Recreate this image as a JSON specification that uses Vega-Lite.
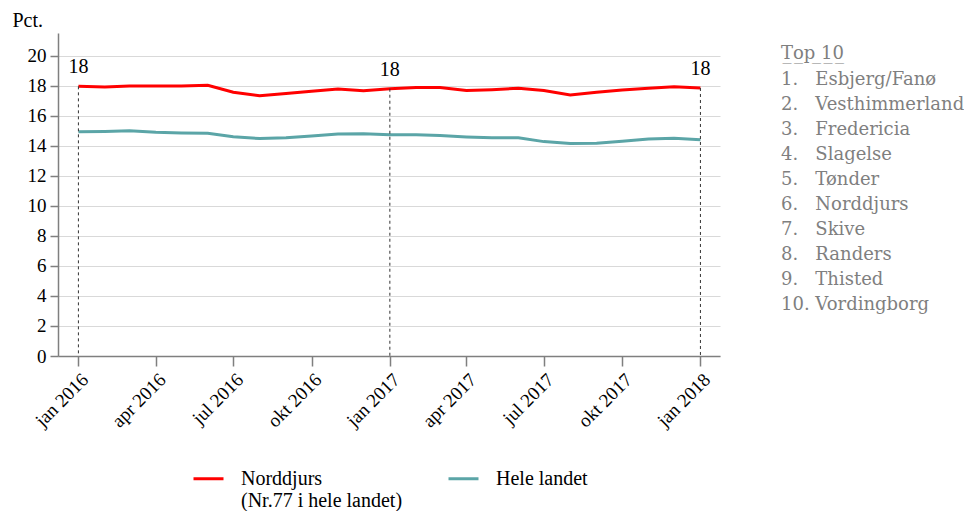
{
  "$schema": "https://vega.github.io/schema/vega-lite/v6.json",
  "width": 662,
  "height": 323,
  "autosize": {"type": "none"},
  "padding": {"left": 58, "top": 33, "right": 244, "bottom": 155},
  "background": "white",
  "config": {"font": "Liberation Serif", "view": {"stroke": null}},
  "datasets": {
    "series": [
      {"date": "2016-01-01", "series": "Norddjurs", "value": 17.95},
      {"date": "2016-02-01", "series": "Norddjurs", "value": 17.9},
      {"date": "2016-03-01", "series": "Norddjurs", "value": 17.97},
      {"date": "2016-04-01", "series": "Norddjurs", "value": 17.98},
      {"date": "2016-05-01", "series": "Norddjurs", "value": 17.98},
      {"date": "2016-06-01", "series": "Norddjurs", "value": 18.02},
      {"date": "2016-07-01", "series": "Norddjurs", "value": 17.56},
      {"date": "2016-08-01", "series": "Norddjurs", "value": 17.32},
      {"date": "2016-09-01", "series": "Norddjurs", "value": 17.47},
      {"date": "2016-10-01", "series": "Norddjurs", "value": 17.62},
      {"date": "2016-11-01", "series": "Norddjurs", "value": 17.78},
      {"date": "2016-12-01", "series": "Norddjurs", "value": 17.65},
      {"date": "2017-01-01", "series": "Norddjurs", "value": 17.79},
      {"date": "2017-02-01", "series": "Norddjurs", "value": 17.87},
      {"date": "2017-03-01", "series": "Norddjurs", "value": 17.87},
      {"date": "2017-04-01", "series": "Norddjurs", "value": 17.67},
      {"date": "2017-05-01", "series": "Norddjurs", "value": 17.73},
      {"date": "2017-06-01", "series": "Norddjurs", "value": 17.82},
      {"date": "2017-07-01", "series": "Norddjurs", "value": 17.67},
      {"date": "2017-08-01", "series": "Norddjurs", "value": 17.38},
      {"date": "2017-09-01", "series": "Norddjurs", "value": 17.56},
      {"date": "2017-10-01", "series": "Norddjurs", "value": 17.71},
      {"date": "2017-11-01", "series": "Norddjurs", "value": 17.82},
      {"date": "2017-12-01", "series": "Norddjurs", "value": 17.93},
      {"date": "2018-01-01", "series": "Norddjurs", "value": 17.84},
      {"date": "2016-01-01", "series": "Hele landet", "value": 14.93},
      {"date": "2016-02-01", "series": "Hele landet", "value": 14.95},
      {"date": "2016-03-01", "series": "Hele landet", "value": 15.0},
      {"date": "2016-04-01", "series": "Hele landet", "value": 14.9},
      {"date": "2016-05-01", "series": "Hele landet", "value": 14.85},
      {"date": "2016-06-01", "series": "Hele landet", "value": 14.82},
      {"date": "2016-07-01", "series": "Hele landet", "value": 14.6},
      {"date": "2016-08-01", "series": "Hele landet", "value": 14.47},
      {"date": "2016-09-01", "series": "Hele landet", "value": 14.53},
      {"date": "2016-10-01", "series": "Hele landet", "value": 14.65},
      {"date": "2016-11-01", "series": "Hele landet", "value": 14.78},
      {"date": "2016-12-01", "series": "Hele landet", "value": 14.8},
      {"date": "2017-01-01", "series": "Hele landet", "value": 14.72},
      {"date": "2017-02-01", "series": "Hele landet", "value": 14.73},
      {"date": "2017-03-01", "series": "Hele landet", "value": 14.67},
      {"date": "2017-04-01", "series": "Hele landet", "value": 14.58},
      {"date": "2017-05-01", "series": "Hele landet", "value": 14.53},
      {"date": "2017-06-01", "series": "Hele landet", "value": 14.52},
      {"date": "2017-07-01", "series": "Hele landet", "value": 14.27},
      {"date": "2017-08-01", "series": "Hele landet", "value": 14.14},
      {"date": "2017-09-01", "series": "Hele landet", "value": 14.16},
      {"date": "2017-10-01", "series": "Hele landet", "value": 14.3},
      {"date": "2017-11-01", "series": "Hele landet", "value": 14.44},
      {"date": "2017-12-01", "series": "Hele landet", "value": 14.49},
      {"date": "2018-01-01", "series": "Hele landet", "value": 14.4}
    ],
    "top10": [
      {"label": "1.\u00a0\u00a0\u00a0Esbjerg/Fanø"},
      {"label": "2.\u00a0\u00a0\u00a0Vesthimmerland"},
      {"label": "3.\u00a0\u00a0\u00a0Fredericia"},
      {"label": "4.\u00a0\u00a0\u00a0Slagelse"},
      {"label": "5.\u00a0\u00a0\u00a0Tønder"},
      {"label": "6.\u00a0\u00a0\u00a0Norddjurs"},
      {"label": "7.\u00a0\u00a0\u00a0Skive"},
      {"label": "8.\u00a0\u00a0\u00a0Randers"},
      {"label": "9.\u00a0\u00a0\u00a0Thisted"},
      {"label": "10.\u00a0Vordingborg"}
    ]
  },
  "encoding": {
    "x": {
      "field": "date",
      "type": "temporal",
      "scale": {"type": "utc", "domain": [{"year": 2015, "month": 12, "date": 8, "utc": true}, {"year": 2018, "month": 1, "date": 24, "utc": true}]},
      "axis": {
        "title": null,
        "tickCount": {"interval": "month", "step": 3},
        "labelExpr": "['jan','feb','mar','apr','maj','jun','jul','aug','sep','okt','nov','dec'][utcmonth(datum.value)] + ' ' + utcyear(datum.value)",
        "labelAngle": -45,
        "labelFontSize": 19,
        "labelColor": "#000000",
        "labelPadding": 4,
        "domainColor": "#7f7f7f",
        "domainWidth": 1.5,
        "tickColor": "#7f7f7f",
        "tickWidth": 1.5,
        "tickSize": 10,
        "grid": false
      }
    },
    "y": {
      "field": "value",
      "type": "quantitative",
      "scale": {"domain": [0, 21.5], "nice": false},
      "axis": {
        "values": [0, 2, 4, 6, 8, 10, 12, 14, 16, 18, 20],
        "labelOverlap": false,
        "title": "Pct.",
        "titleAngle": 0,
        "titleAlign": "left",
        "titleBaseline": "middle",
        "titleX": -46,
        "titleY": -13,
        "titleFontSize": 20,
        "titleFontWeight": "normal",
        "titleColor": "#000000",
        "labelFontSize": 19,
        "labelColor": "#000000",
        "labelPadding": 4,
        "domainColor": "#7f7f7f",
        "domainWidth": 1.5,
        "tickColor": "#7f7f7f",
        "tickWidth": 1.5,
        "tickSize": 8,
        "grid": true,
        "gridColor": "#d9d9d9",
        "gridWidth": 1
      }
    }
  },
  "layer": [
    {
      "data": {"name": "series"},
      "mark": {"type": "line", "strokeWidth": 3},
      "encoding": {
        "color": {
          "field": "series",
          "type": "nominal",
          "scale": {"domain": ["Norddjurs", "Hele landet"], "range": ["#ff0000", "#5ba5a7"]},
          "legend": {
            "title": null,
            "orient": "none",
            "legendX": 134,
            "legendY": 429,
            "direction": "horizontal",
            "symbolType": "stroke",
            "symbolSize": 900,
            "symbolStrokeWidth": 3,
            "labelFontSize": 20,
            "labelColor": "#000000",
            "labelOffset": 16,
            "labelLimit": 300,
            "labelBaseline": "middle",
            "columnPadding": 39,
            "labelExpr": "datum.label == 'Norddjurs' ? ['Norddjurs', '\u00a0(Nr.77 i hele landet)'] : [datum.label, '']"
          }
        }
      }
    },
    {
      "data": {"name": "series"},
      "transform": [{"filter": "datum.series == 'Norddjurs' && utcmonth(toDate(datum.date)) == 0"}],
      "mark": {"type": "rule", "strokeDash": [3, 3], "color": "#333333", "strokeWidth": 1},
      "encoding": {
        "y2": {"datum": 0}
      }
    },
    {
      "data": {"name": "series"},
      "transform": [{"filter": "datum.series == 'Norddjurs' && utcmonth(toDate(datum.date)) == 0"}],
      "mark": {"type": "text", "fontSize": 20, "baseline": "middle", "dy": -19, "color": "#000000"},
      "encoding": {
        "text": {"field": "value", "type": "quantitative", "format": ".0f"}
      }
    },
    {
      "data": {"name": "top10"},
      "mark": {"type": "point", "opacity": 0},
      "encoding": {
        "shape": {
          "field": "label",
          "type": "nominal",
          "sort": null,
          "scale": {"domain": [
            "1.\u00a0\u00a0\u00a0Esbjerg/Fanø",
            "2.\u00a0\u00a0\u00a0Vesthimmerland",
            "3.\u00a0\u00a0\u00a0Fredericia",
            "4.\u00a0\u00a0\u00a0Slagelse",
            "5.\u00a0\u00a0\u00a0Tønder",
            "6.\u00a0\u00a0\u00a0Norddjurs",
            "7.\u00a0\u00a0\u00a0Skive",
            "8.\u00a0\u00a0\u00a0Randers",
            "9.\u00a0\u00a0\u00a0Thisted",
            "10.\u00a0Vordingborg"
          ]},
          "legend": {
            "title": "T\u0332o\u0332p \u03321\u03320\u0332",
            "orient": "none",
            "legendX": 723,
            "legendY": 12,
            "titleFont": "DejaVu Serif",
            "titleFontSize": 18,
            "titleFontWeight": "normal",
            "titleColor": "#7f7f7f",
            "titlePadding": 8,
            "labelFont": "DejaVu Serif",
            "labelFontSize": 18,
            "labelColor": "#7f7f7f",
            "labelOffset": -18,
            "labelLimit": 300,
            "symbolOpacity": 0,
            "symbolStrokeWidth": 0,
            "symbolSize": 0,
            "rowPadding": 7
          }
        }
      }
    }
  ]
}
